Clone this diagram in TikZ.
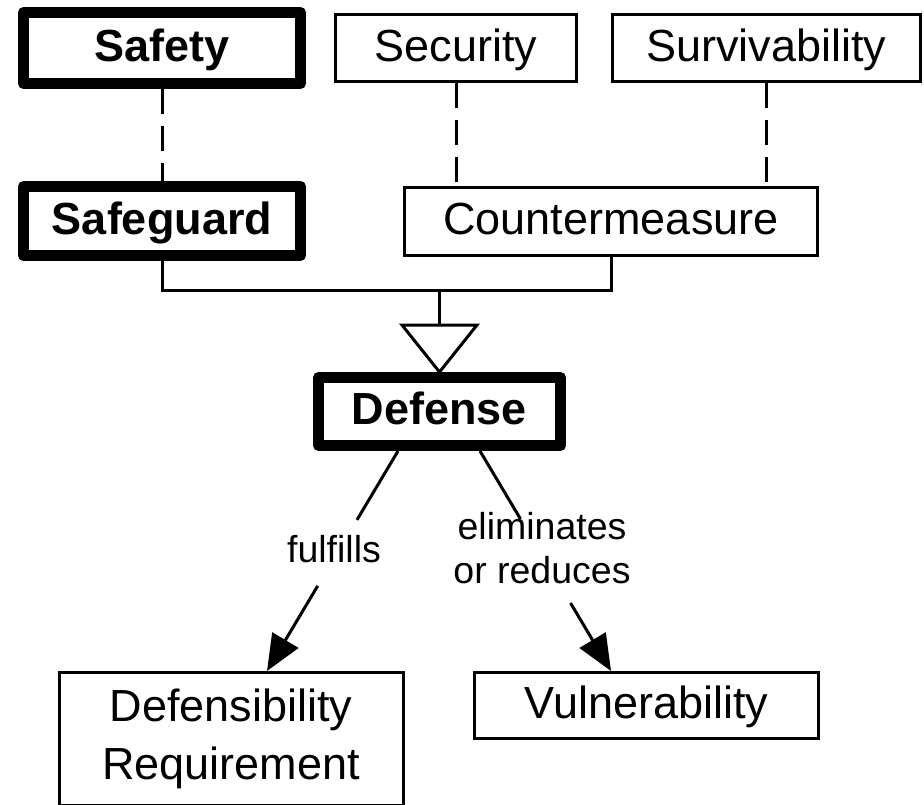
\documentclass[tikz,border=0pt]{standalone}
\usepackage{fontspec}
\setmainfont{Liberation Sans}
\usetikzlibrary{arrows.meta,calc}
\begin{document}
\begin{tikzpicture}[x=1pt,y=-1pt,
  box/.style={draw,line width=3pt,inner sep=0pt,align=center,
    font=\fontsize{45}{58}\selectfont,text height=33pt,text depth=7pt},
  thickbox/.style={box,line width=11pt,line join=round,
    font=\fontsize{45}{58}\selectfont\bfseries},
  conn/.style={line width=3pt},
  dashconn/.style={line width=3pt,dash pattern=on 25pt off 12pt},
  lbl/.style={font=\fontsize{37.5}{44}\selectfont,inner sep=0pt,align=center},
  arr/.style={conn,-{Triangle[length=36pt,width=30pt]}}]
\useasboundingbox (0,0) rectangle (924,804);

\node[thickbox,minimum width=277pt,minimum height=71pt] (safety) at (162,48) {Safety};
\node[box,minimum width=241pt,minimum height=67pt] (security) at (456,48) {Security};
\node[box,minimum width=308pt,minimum height=67pt] (surv) at (766.5,48) {Survivability};
\node[thickbox,minimum width=277pt,minimum height=69pt] (sg) at (162,221) {Safeguard};
\node[box,minimum width=413pt,minimum height=68pt] (cm) at (611,221.5) {Countermeasure};
\node[thickbox,minimum width=242pt,minimum height=68pt] (def) at (439.5,411.5) {Defense};
\node[box,minimum width=344pt,minimum height=66pt] (vul) at (646.5,705.5) {Vulnerability};
\node[box,text height=,text depth=,minimum width=344pt,minimum height=133pt] (dr) at (231,739) {Defensibility\\Requirement};

% dashed relations
\draw[dashconn] (safety.south) -- (sg.north);
\draw[dashconn] (security.south) -- (security.south |- cm.north);
\draw[dashconn] (surv.south) -- (surv.south |- cm.north);

% generalization
\coordinate (junc) at (439.5,290);
\draw[conn] (sg.south) |- (junc) -| (cm.south);
\coordinate (tritop) at ($(def.north)+(0,-47)$);
\draw[conn] (junc) -- (tritop);
\draw[conn,line join=miter] ($(tritop)+(-37.5,0)$) -- ($(tritop)+(37.5,0)$) -- (def.north) -- cycle;

% associations
\coordinate (a1s) at ($(def.south)+(-41.5,0)$);
\coordinate (a1x) at (267,0);
\coordinate (a1e) at (a1x |- dr.north);
\draw[conn] (a1s) -- ($(a1s)!0.313!(a1e)$);
\draw[arr] ($(a1s)!0.613!(a1e)$) -- (a1e);
\node[lbl,anchor=base] (lf) at (334,562) {fulfills};

\coordinate (a2s) at ($(def.south)+(40.5,0)$);
\coordinate (a2e) at (611,0 |- vul.north);
\draw[conn] (a2s) -- ($(a2s)!0.309!(a2e)$);
\draw[arr] ($(a2s)!0.691!(a2e)$) -- (a2e);
\node[lbl,anchor=base] (le) at (542,583) {eliminates\\or reduces};
\end{tikzpicture}
\end{document}
